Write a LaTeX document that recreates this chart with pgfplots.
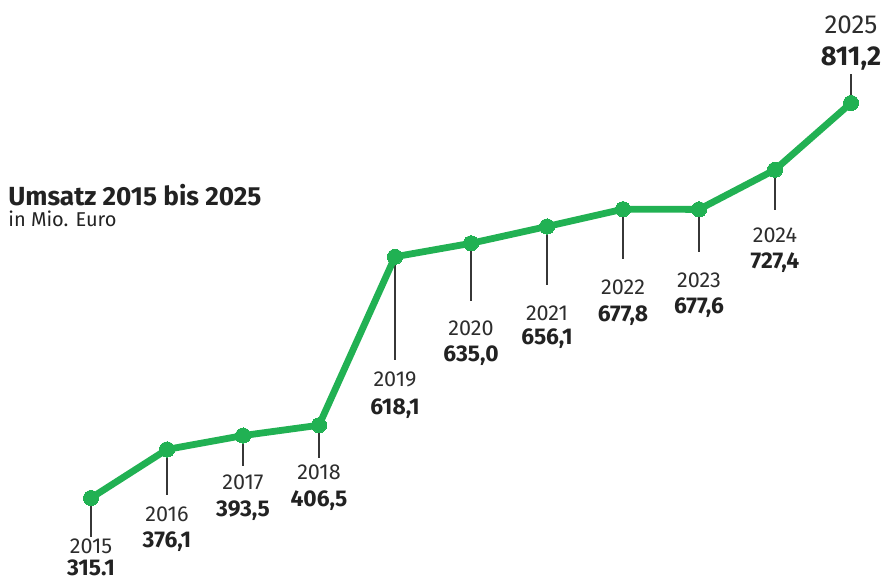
\documentclass[border=0pt]{standalone}
\usepackage{pgfplots}
\pgfplotsset{compat=1.18}
\usepackage{fontspec}
\setmainfont{Fira Sans}
\definecolor{lgreen}{RGB}{33,177,83}
\definecolor{txt}{RGB}{34,34,34}
\definecolor{yeartxt}{RGB}{45,45,45}
\definecolor{tickc}{RGB}{55,55,55}

% x index, y, line length (pt), year baseline offset (pt), value baseline offset (pt), year, value
\newcommand{\lab}[7]{%
  \draw[tickc, line width=0.6pt] (axis cs:#1,#2) -- ++(0pt,-#3pt);
  \node[yeartxt, font=\fontsize{10.8}{12}\selectfont, anchor=base, inner sep=0pt, yshift=-#4pt] at (axis cs:#1,#2) {#6};
  \node[txt, font=\fontsize{11.4}{13}\selectfont\bfseries, anchor=base, inner sep=0pt, yshift=-#5pt] at (axis cs:#1,#2) {#7};
}

\begin{document}
\begin{tikzpicture}
\begin{axis}[
  scale only axis,
  width=441pt, height=290pt,
  xmin=-1.1974, xmax=10.4079,
  ymin=212.11, ymax=940.57,
  hide axis,
  clip=false,
]
\lab{0}{315.1}{19.5}{27.5}{38.5}{2015}{315.1}
\lab{1}{376.1}{23}{36}{49}{2016}{376,1}
\lab{2}{393.5}{15}{27}{40.5}{2017}{393,5}
\lab{3}{406.5}{16.5}{27}{40.5}{2018}{406,5}
\lab{4}{618.1}{51.5}{65}{79}{2019}{618,1}
\lab{5}{635.0}{29}{46}{59}{2020}{635,0}
\lab{6}{656.1}{29.5}{47}{59}{2021}{656,1}
\lab{7}{677.8}{25}{42.5}{56}{2022}{677,8}
\lab{8}{677.6}{21.5}{39}{52}{2023}{677,6}
\lab{9}{727.4}{20}{36.5}{49.5}{2024}{727,4}
\draw[tickc, line width=0.6pt] (axis cs:10,811.2) -- ++(0pt,14.5pt);
\node[yeartxt, font=\fontsize{13}{15}\selectfont, anchor=base, inner sep=0pt, yshift=35pt] at (axis cs:10,811.2) {2025};
\node[txt, font=\fontsize{13.6}{15}\selectfont\bfseries, anchor=base, inner sep=0pt, yshift=19pt] at (axis cs:10,811.2) {811,2};

\addplot[lgreen, line width=3.4pt, line join=round, mark=*, mark size=3.8pt, mark options={lgreen, draw=lgreen, fill=lgreen, line width=0pt}] coordinates {
  (0,315.1) (1,376.1) (2,393.5) (3,406.5) (4,618.1) (5,635.0)
  (6,656.1) (7,677.8) (8,677.6) (9,727.4) (10,811.2)
};

\node[anchor=base west, inner sep=0pt, font=\fontsize{13.1}{15}\selectfont\bfseries, txt] at (rel axis cs:0.00907,0.64655) {Umsatz 2015 bis 2025};
\node[anchor=base west, inner sep=0pt, font=\fontsize{10}{12}\selectfont, txt] at (rel axis cs:0.00907,0.60862) {in Mio. Euro};
\end{axis}
\pgfresetboundingbox
\path (0,0) rectangle (441pt,290pt);
\end{tikzpicture}
\end{document}
